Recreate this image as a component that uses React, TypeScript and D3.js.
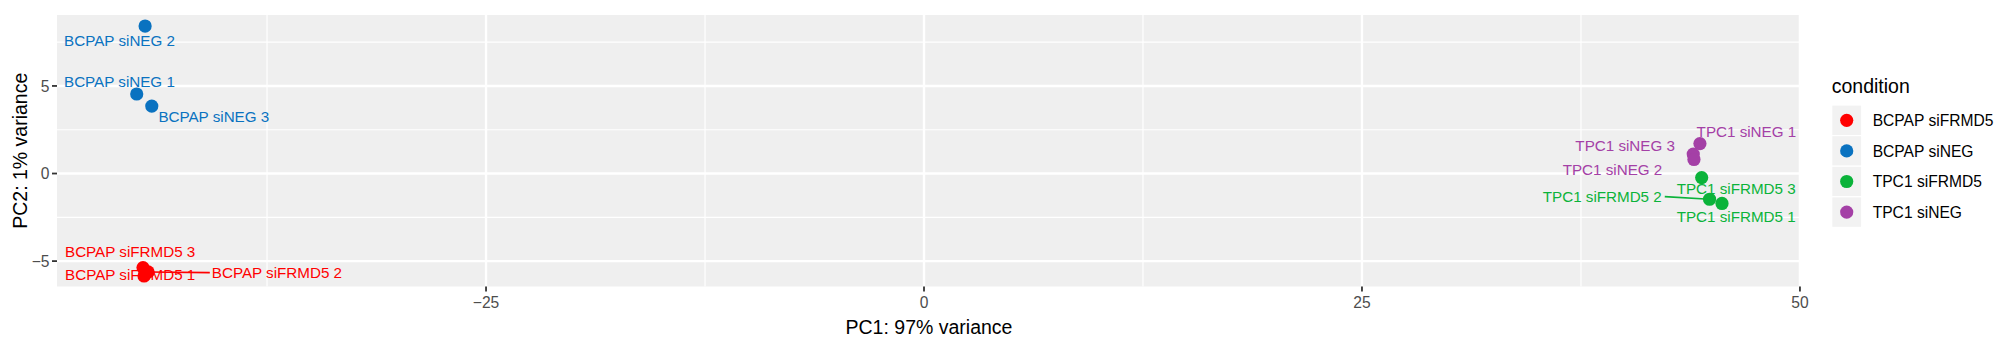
import React from "react";
import * as d3 from "d3";

// ---------- data ----------
const conditions = ["BCPAP siFRMD5", "BCPAP siNEG", "TPC1 siFRMD5", "TPC1 siNEG"];
const conditionColors = ["#FF0000", "#0A72C0", "#0BB33A", "#A440A6"];

const sampleNames = [
  "BCPAP siNEG 2", "BCPAP siNEG 1", "BCPAP siNEG 3",
  "BCPAP siFRMD5 3", "BCPAP siFRMD5 2", "BCPAP siFRMD5 1",
  "TPC1 siNEG 1", "TPC1 siNEG 3", "TPC1 siNEG 2",
  "TPC1 siFRMD5 3", "TPC1 siFRMD5 2", "TPC1 siFRMD5 1",
];
const sampleCondition = [
  "BCPAP siNEG", "BCPAP siNEG", "BCPAP siNEG",
  "BCPAP siFRMD5", "BCPAP siFRMD5", "BCPAP siFRMD5",
  "TPC1 siNEG", "TPC1 siNEG", "TPC1 siNEG",
  "TPC1 siFRMD5", "TPC1 siFRMD5", "TPC1 siFRMD5",
];
const pc1 = [-44.46, -44.94, -44.08, -44.58, -44.29, -44.52, 44.29, 43.91, 43.95, 44.39, 44.84, 45.55];
const pc2 = [8.42, 4.54, 3.85, -5.37, -5.62, -5.85, 1.71, 1.11, 0.80, -0.23, -1.47, -1.71];

const xTicks = [-25, 0, 25, 50];
const yTicks = [-5, 0, 5];
const xMinor = [-37.5, -12.5, 12.5, 37.5];
const yMinor = [-2.5, 2.5, 7.5];

const xTitle = "PC1: 97% variance";
const yTitle = "PC2: 1% variance";
const legendTitle = "condition";

// ---------- layout (label placement, repel-style offsets in px) ----------
const labelLayout: { dx: number; dy: number; anchor: string; seg?: boolean }[] = [
  { dx: -81, dy: 14, anchor: "start" },
  { dx: -72.7, dy: -12.3, anchor: "start" },
  { dx: 6.6, dy: 10.7, anchor: "start" },
  { dx: -78, dy: -16.3, anchor: "start" },
  { dx: 63.7, dy: 0.7, anchor: "start", seg: true },
  { dx: -79, dy: -1.7, anchor: "start" },
  { dx: -3.3, dy: -11.8, anchor: "start" },
  { dx: -18.3, dy: -8.3, anchor: "end" },
  { dx: -31.7, dy: 9.8, anchor: "end" },
  { dx: -25, dy: 10.8, anchor: "start" },
  { dx: -47.8, dy: -2.6, anchor: "end", seg: true },
  { dx: -45.3, dy: 13.2, anchor: "start" },
];

const W = 2007;
const H = 343;
const panel = { left: 57, right: 1801, top: 15, bottom: 286.5 };
const FONT = "'Liberation Sans', Arial, Helvetica, sans-serif";

export default function App() {
  const x = d3.scaleLinear().domain([-49.49, 50.06]).range([panel.left, panel.right]);
  const y = d3.scaleLinear().domain([-6.45, 9.05]).range([panel.bottom, panel.top]);
  const color = d3.scaleOrdinal<string, string>().domain(conditions).range(conditionColors);

  const keyH = 30.6;
  const legendTop = 105;
  const keyX = 1831.7;
  const keyW = 30;

  return (
    <svg
      width={W}
      height={H}
      style={{ position: "absolute", left: 0, top: 0, background: "#fff" }}
      fontFamily={FONT}
    >
      <rect x={0} y={0} width={W} height={H} fill="#fff" />
      {/* panel */}
      <rect
        x={panel.left}
        y={panel.top}
        width={panel.right - panel.left}
        height={panel.bottom - panel.top}
        fill="#efefef"
      />
      {/* minor grid */}
      {xMinor.map((v) => (
        <line key={"xm" + v} x1={x(v)} x2={x(v)} y1={panel.top} y2={panel.bottom} stroke="#fff" strokeWidth={1.2} />
      ))}
      {yMinor.map((v) => (
        <line key={"ym" + v} x1={panel.left} x2={panel.right} y1={y(v)} y2={y(v)} stroke="#fff" strokeWidth={1.2} />
      ))}
      {/* major grid */}
      {xTicks.map((v) => (
        <line key={"xM" + v} x1={x(v)} x2={x(v)} y1={panel.top} y2={panel.bottom} stroke="#fff" strokeWidth={2.4} />
      ))}
      {yTicks.map((v) => (
        <line key={"yM" + v} x1={panel.left} x2={panel.right} y1={y(v)} y2={y(v)} stroke="#fff" strokeWidth={2.4} />
      ))}

      {/* segments */}
      {sampleNames.map((n, i) => {
        const L = labelLayout[i];
        if (!L.seg) return null;
        const px = x(pc1[i]);
        const py = y(pc2[i]);
        const ex = L.anchor === "start" ? px + L.dx - 2 : px + L.dx + 3;
        return (
          <line
            key={"s" + n}
            x1={px}
            y1={py}
            x2={ex}
            y2={py + L.dy}
            stroke={color(sampleCondition[i])}
            strokeWidth={1.6}
          />
        );
      })}

      {/* points */}
      {sampleNames.map((n, i) => (
        <circle key={"p" + n} cx={x(pc1[i])} cy={y(pc2[i])} r={6.6} fill={color(sampleCondition[i])} />
      ))}

      {/* labels */}
      {sampleNames.map((n, i) => {
        const L = labelLayout[i];
        return (
          <text
            key={"t" + n}
            x={x(pc1[i]) + L.dx}
            y={y(pc2[i]) + L.dy}
            dy="0.36em"
            textAnchor={L.anchor}
            fontSize={15.2}
            fill={color(sampleCondition[i])}
          >
            {n}
          </text>
        );
      })}

      {/* x axis ticks */}
      {xTicks.map((v) => (
        <g key={"xt" + v}>
          <line x1={x(v)} x2={x(v)} y1={panel.bottom} y2={panel.bottom + 5} stroke="#333" strokeWidth={1.8} />
          <text x={x(v)} y={302.5} dy="0.36em" textAnchor="middle" fontSize={15.6} fill="#4d4d4d">
            {v < 0 ? "\u2212" + Math.abs(v) : String(v)}
          </text>
        </g>
      ))}
      {/* y axis ticks */}
      {yTicks.map((v) => (
        <g key={"yt" + v}>
          <line x1={panel.left - 5} x2={panel.left} y1={y(v)} y2={y(v)} stroke="#333" strokeWidth={1.8} />
          <text x={panel.left - 7.5} y={y(v)} dy="0.36em" textAnchor="end" fontSize={15.6} fill="#4d4d4d">
            {v < 0 ? "\u2212" + Math.abs(v) : String(v)}
          </text>
        </g>
      ))}

      {/* axis titles */}
      <text x={(panel.left + panel.right) / 2} y={326.7} dy="0.36em" textAnchor="middle" fontSize={19.5} fill="#000">
        {xTitle}
      </text>
      <text
        transform={`translate(19.5,${(panel.top + panel.bottom) / 2}) rotate(-90)`}
        dy="0.36em"
        textAnchor="middle"
        fontSize={19.5}
        fill="#000"
      >
        {yTitle}
      </text>

      {/* legend */}
      <text x={keyX} y={86} dy="0.36em" fontSize={19.5} fill="#000">
        {legendTitle}
      </text>
      {conditions.map((c, i) => {
        const ky = legendTop + i * keyH;
        return (
          <g key={"lg" + c}>
            <rect x={keyX} y={ky} width={keyW} height={keyH} fill="#f2f2f2" stroke="#fff" strokeWidth={1.2} />
            <circle cx={keyX + keyW / 2} cy={ky + keyH / 2} r={6.6} fill={color(c)} />
            <text x={1872.7} y={ky + keyH / 2} dy="0.36em" fontSize={15.6} fill="#000">
              {c}
            </text>
          </g>
        );
      })}
    </svg>
  );
}
